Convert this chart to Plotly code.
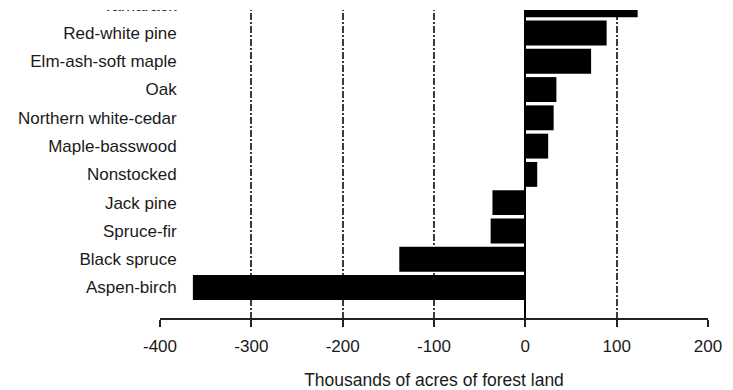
import plotly.graph_objects as go

categories = ["Aspen-birch", "Black spruce", "Spruce-fir", "Jack pine", "Nonstocked",
              "Maple-basswood", "Northern white-cedar", "Oak", "Elm-ash-soft maple",
              "Red-white pine", "Tamarack"]
change = [-364, -138, -38, -36, 13, 25, 31, 34, 72, 89, 123]
x_ticks = [-400, -300, -200, -100, 0, 100, 200]
x_title = "Thousands of acres of forest land"

FONT = "Liberation Sans, Arial, sans-serif"
PLOT_H = 390 - 72  # plot area height in px (t=0, b=72)
CROP_PX = 10       # the reference image is cropped: top band is blank

fig = go.Figure(go.Bar(
    y=categories, x=change, orientation="h",
    marker=dict(color="black", line=dict(width=0)),
    width=0.88,
))

fig.update_layout(
    width=733, height=390,
    margin=dict(l=160, r=25, t=0, b=72, autoexpand=False),
    paper_bgcolor="white", plot_bgcolor="white",
    showlegend=False,
    font=dict(family=FONT, size=17, color="#1a1a1a"),
    xaxis=dict(
        range=[-400, 200], tickvals=x_ticks, ticktext=[str(v) for v in x_ticks],
        showgrid=True, gridcolor="#3a3a3a", gridwidth=1.5, griddash="7px,2px,2px,2px",
        zeroline=True, zerolinecolor="black", zerolinewidth=2,
        showline=True, linecolor="#222222", linewidth=2,
        ticks="outside", ticklen=7, tickcolor="#222222", tickwidth=2,
        ticklabelstandoff=5, automargin=False,
        title=dict(text=x_title, standoff=29, font=dict(size=17.5)),
        fixedrange=True,
    ),
    yaxis=dict(
        type="category", range=[-1.078, 10.166],
        anchor="free", position=0.0305, automargin=False,
        ticklabeloverflow="allow",
        showgrid=False, zeroline=False, showline=False, ticks="",
        fixedrange=True,
    ),
    shapes=[dict(
        type="rect", xref="paper", yref="paper", layer="above",
        x0=-0.35, x1=1.1, y0=1 - CROP_PX / PLOT_H, y1=1.1,
        fillcolor="white", line=dict(width=0),
    )],
)

fig.write_html("out.html", config={"displayModeBar": False},
               post_script="document.body.style.margin='0';")
